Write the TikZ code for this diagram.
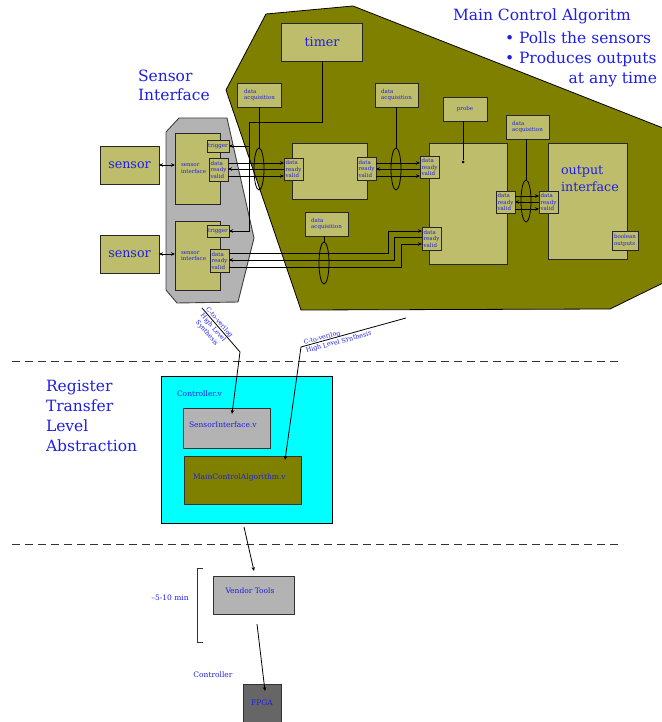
\documentclass[tikz,border=0pt]{standalone}
\usepackage{fontspec}
\setmainfont{DejaVu Serif}
\usetikzlibrary{arrows.meta,shapes.geometric}
\definecolor{olv}{RGB}{128,128,0}
\definecolor{lolv}{RGB}{189,189,107}
\definecolor{gry}{RGB}{179,179,179}
\definecolor{txtb}{RGB}{30,30,230}
\definecolor{dgry}{RGB}{102,102,102}
\definecolor{cyn}{RGB}{0,255,255}
\begin{document}
\begin{tikzpicture}[x=1pt,y=-1pt,
  every node/.style={inner sep=0pt, outer sep=0pt},
  sz/.style 2 args={minimum width=#1pt, minimum height=#2pt},
  bxs/.style={draw=black!85, line width=0.8pt, fill=lolv, text=txtb},
  tiny/.style={font=\fontsize{5.5}{6.5}\selectfont, align=left, text=txtb},
  lbl/.style={font=\fontsize{7.5}{9}\selectfont, text=txtb},
  big/.style={font=\fontsize{15.5}{19}\selectfont, text=txtb},
  midf/.style={font=\fontsize{12.7}{17}\selectfont, text=txtb},
  wire/.style={line width=0.8pt, -{Stealth[length=4pt,width=3.5pt]}},
  dwire/.style={line width=0.8pt, {Stealth[length=4pt,width=3.5pt]}-{Stealth[length=4pt,width=3.5pt]}},
  plain/.style={line width=0.8pt},
  ell/.style={draw, ellipse, line width=0.8pt, minimum width=10pt, minimum height=42pt},
  cv/.style={font=\fontsize{6.3}{8.2}\selectfont, text=txtb}
]
\useasboundingbox (0,0) rectangle (661,722);

% main control polygon
\draw[fill=olv, draw=black, line width=0.8pt] (226,90) -- (266,14) -- (353,6) -- (663,128) -- (663,283) -- (610,309) -- (301,310) -- cycle;
% sensor interface polygon
\draw[fill=gry, draw=black!75, line width=0.9pt] (166,132) -- (179,118) -- (227,118) -- (254,238) -- (238,302) -- (177,303) -- (166,290) -- cycle;

% titles
\node[big, anchor=base west] (mca) at (453,20.7) {Main Control Algoritm};
\node[big, anchor=base west] (pb1) at (505,43.3) {• Polls the sensors};
\node[big, anchor=base west] (pb2) at (505,64) {• Produces outputs};
\node[big, anchor=base east] (pb3) at (657,83.3) {at any time};
\node[big, anchor=base west] (sit1) at (138,81.7) {Sensor};
\node[big, anchor=base west] (sit2) at (138,100.7) {Interface};

% sensors
\node[bxs, sz={59}{38}, midf] (s1) at (129.5,165) {sensor};
\node[bxs, sz={59}{38}, midf] (s2) at (129.5,254) {sensor};
\node[bxs, sz={45}{71}, tiny, text width=33pt] (si1) at (197.5,168.5) {sensor\\interface};
\node[bxs, sz={45}{69}, tiny, text width=33pt] (si2) at (197.5,256) {sensor\\interface};
\node[bxs, sz={22}{12}, tiny] (t1) at (218,146) {trigger};
\node[bxs, sz={22}{12}, tiny] (t2) at (218,231) {trigger};
\node[bxs, sz={19}{23}, tiny] (sd1) at (218.5,169.5) {data\\ready\\valid};
\node[bxs, sz={19}{23}, tiny] (sd2) at (219.5,260.5) {data\\ready\\valid};

% main control contents
\node[bxs, sz={81}{38}, midf] (timer) at (322,42) {timer};
\node[bxs, sz={44}{24}, tiny] (da1) at (259.5,95) {data\\acquisition};
\node[bxs, sz={43}{24}, tiny] (da2) at (396.5,95) {data\\acquisition};
\node[bxs, sz={43}{24}, tiny] (da3) at (326.5,224) {data\\acquisition};
\node[bxs, sz={43}{24}, tiny] (da4) at (527.5,127) {data\\acquisition};
\node[bxs, sz={44}{24}, tiny] (probe) at (465,109) {probe};
\node[bxs, sz={75}{56}] (mbox) at (329.5,171) {};
\node[bxs, sz={19}{22}, tiny] (mdL) at (293.5,169) {data\\ready\\valid};
\node[bxs, sz={19}{23}, tiny] (mdR) at (366.5,168.5) {data\\ready\\valid};
\node[bxs, sz={78}{121}] (alg) at (468,203.5) {};
\node[bxs, sz={19}{22}, tiny] (ad1) at (429.5,167) {data\\ready\\valid};
\node[bxs, sz={19}{23}, tiny] (ad2) at (431.5,238.5) {data\\ready\\valid};
\node[bxs, sz={19}{22}, tiny] (ad3) at (505.5,202) {data\\ready\\valid};
\node[bxs, sz={79}{116}] (outb) at (587.5,201) {};
\node[midf, align=left, anchor=base west] (outt1) at (561,174.5) {output};
\node[midf, align=left, anchor=base west] (outt2) at (561,191) {interface};
\node[bxs, sz={19}{22}, tiny] (od) at (548.5,202) {data\\ready\\valid};
\node[bxs, sz={26}{19}, tiny] (bool) at (625,240.5) {boolean\\outputs};
\node[circle, fill=black, minimum size=3pt] (pdot) at (463,162) {};

% ellipses
\node[ell] (e1) at (259,169) {};
\node[ell] (e2) at (396,169) {};
\node[ell] (e3) at (324,263) {};
\node[ell] (e4) at (526,201) {};

% helper levels
\coordinate (ya) at (0,163);
\coordinate (yb) at (0,169);
\coordinate (yc) at (0,176);
\coordinate (yd) at (0,196);
\coordinate (ye) at (0,202);
\coordinate (yf) at (0,209);
\coordinate (yg) at (0,253);
\coordinate (yh) at (0,260);
\coordinate (yi) at (0,267);
\coordinate (yj) at (0,231);
\coordinate (yk) at (0,237.5);
\coordinate (yl) at (0,244);
\coordinate (xa) at (388,0);
\coordinate (xb) at (394,0);
\coordinate (xc) at (401,0);
\coordinate (tj) at (249,122);

% wires
\draw[dwire] (s1.east) -- (si1.west |- s1.east);
\draw[dwire] (s2.east) -- (si2.west |- s2.east);
\draw[plain] (da1.south -| e1.north) -- (e1.north);
\draw[plain] (da2.south -| e2.north) -- (e2.north);
\draw[plain] (da3.south -| e3.north) -- (e3.north);
\draw[plain] (da4.south -| e4.north) -- (e4.north);
\draw[plain] (probe.south -| pdot) -- (pdot);
\draw[plain] (timer.south) |- (tj);
\draw[wire] (tj) |- (t2.east);
\draw[wire] (tj |- t1.east) -- (t1.east);

\draw[wire] (sd1.east |- ya) -- (mdL.west |- ya);
\draw[wire] (mdL.west |- yb) -- (sd1.east |- yb);
\draw[wire] (sd1.east |- yc) -- (mdL.west |- yc);
\draw[wire] (mdR.east |- ya) -- (ad1.west |- ya);
\draw[wire] (ad1.west |- yb) -- (mdR.east |- yb);
\draw[wire] (mdR.east |- yc) -- (ad1.west |- yc);
\draw[wire] (ad3.east |- yd) -- (od.west |- yd);
\draw[wire] (od.west |- ye) -- (ad3.east |- ye);
\draw[wire] (ad3.east |- yf) -- (od.west |- yf);
\draw[wire] (sd2.east |- yg) -| (xa |- yj) -- (ad2.west |- yj);
\draw[wire] (ad2.west |- yk) -| (xb |- yh) -- (sd2.east |- yh);
\draw[wire] (sd2.east |- yi) -| (xc |- yl) -- (ad2.west |- yl);

% lower part
\draw[dash pattern=on 8pt off 5pt, line width=0.8pt, draw=black!80] (12,361) -- (623,361);
\draw[dash pattern=on 8pt off 5pt, line width=0.8pt, draw=black!80] (12,544) -- (623,544);

\node[big, anchor=base west] (rt1) at (46,391.5) {Register};
\node[big, anchor=base west] (rt2) at (46,411.5) {Transfer};
\node[big, anchor=base west] (rt3) at (46,431.5) {Level};
\node[big, anchor=base west] (rt4) at (46,451.5) {Abstraction};

\node[draw=black, line width=0.8pt, fill=cyn, sz={171}{147}] (ctrl) at (246.5,449.5) {};
\node[lbl, anchor=west] (ctrlt) at (177,394) {Controller.v};
\node[draw=black!80, line width=0.8pt, fill=gry, sz={87}{40}] (siv) at (226.5,428) {};
\node[lbl, anchor=west] (sivt) at (189,425) {SensorInterface.v};
\node[draw=black!80, line width=0.8pt, fill=olv, sz={117}{48}] (mcav) at (242.5,480) {};
\node[lbl, anchor=west] (mcavt) at (193,477) {MainControlAlgorithm.v};

\node[draw=black!80, line width=0.8pt, fill=gry, sz={81}{38}] (vend) at (253.5,595) {};
\node[lbl] (vendt) at (250,591) {Vendor Tools};
\node[draw=black!80, line width=0.8pt, fill=dgry, sz={38}{38}, lbl] (fpga) at (262,703) {FPGA};
\node[lbl] (ctl) at (213,675) {Controller};
\node[lbl] (tmin) at (170,598) {–5-10 min};
\draw[plain, draw=black!80] (203,568) -- (197,568) -- (197,642) -- (203,642);

\coordinate (l1) at (202,308);
\coordinate (l2) at (240,352);
\coordinate (r1) at (406,318);
\coordinate (r2) at (301,347);
\draw[wire] (l1) -- (l2) -- ([shift={(5.5,6)}]siv.north);
\draw[wire] (r1) -- (r2) -- ([shift={(42.5,4)}]mcav.north);
\node[cv, align=center, rotate=-49] (lct) at (213,328) {C-to-verilog\\High Level\\Synthesis};
\node[cv, align=left, rotate=15, anchor=west] (rct) at (305,347) {C-to-verilog\\High Level Synthesis};

\draw[wire] ([shift={(-2.5,4)}]ctrl.south) -- ([shift={(0.5,-5)}]vend.north);
\draw[wire] ([shift={(3.5,10)}]vend.south) -- ([shift={(3,7)}]fpga.north);
\end{tikzpicture}
\end{document}
